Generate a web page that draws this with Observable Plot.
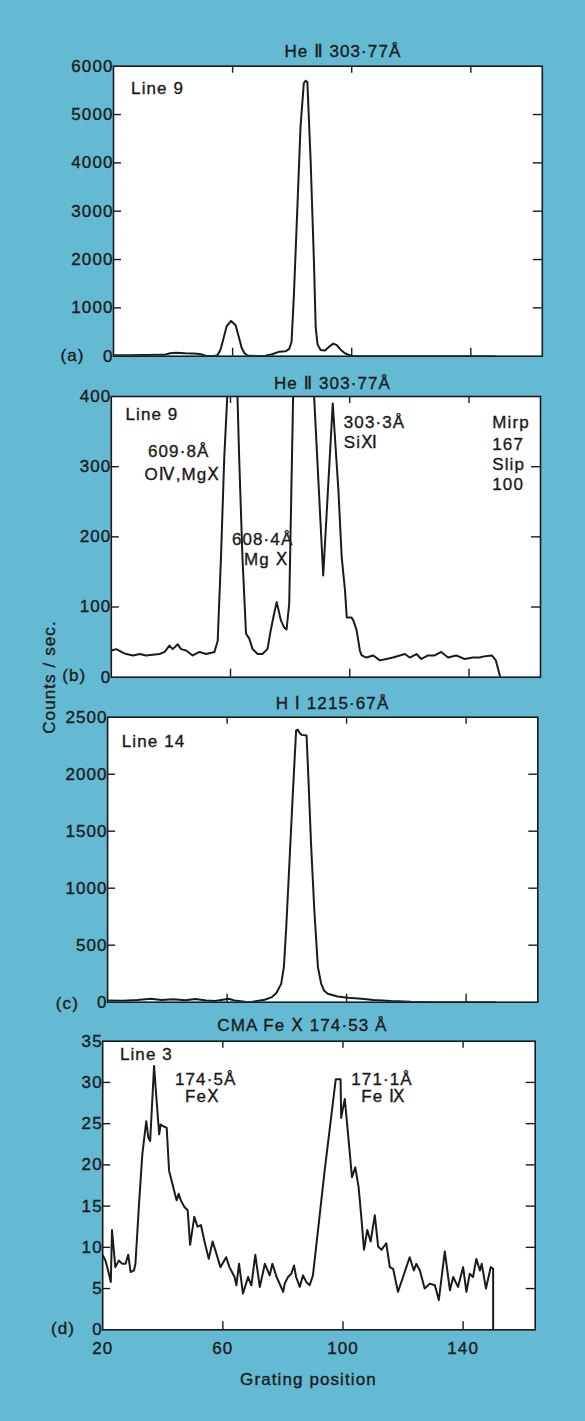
<!DOCTYPE html>
<html>
<head>
<meta charset="utf-8">
<script src="https://cdn.jsdelivr.net/npm/d3@7"></script>
<script src="https://cdn.jsdelivr.net/npm/@observablehq/plot@0.6"></script>
<style>
  html, body { margin: 0; padding: 0; background: #64b9d3; }
  #page { position: relative; width: 585px; height: 1421px; background: #64b9d3; overflow: hidden;
          font-family: "Liberation Sans", Arial, "DejaVu Sans", sans-serif; color: #1b1b1b; }
  #page svg { position: absolute; left: 0; }
  #page svg text { stroke: #1b1b1b; stroke-width: 0.35px; }
  #ylab { position: absolute; left: -50px; top: 667px; width: 200px; height: 20px; line-height: 20px;
          text-align: center; font-size: 17px; letter-spacing: 1.1px; transform: rotate(-90deg); transform-origin: 50% 50%;
          -webkit-text-stroke: 0.35px #1b1b1b; }
</style>
</head>
<body>
<div id="page"><div id="ylab">Counts / sec.</div></div>
<script>
// ---------- data (grating position, counts / sec.) ----------
const xTickValues = [20, 60, 100, 140];

// (a) He II 303.77 Å, Line 9
const positionA = [20, 25, 30, 37, 39, 41, 44, 47, 49, 51, 54, 55, 56, 57, 58, 59.5, 61, 62, 63, 64, 65, 68, 71, 73, 75.5, 77.8, 79, 79.8, 80.6, 81.7, 82.8, 83.9, 84.5, 85.1, 86.2, 87.3, 87.9, 88.5, 89.5, 91, 92.5, 93.8, 95, 96.2, 97.5, 98.5, 100, 102, 110, 120, 130, 140, 148];
const countsA   = [20, 22, 25, 28, 60, 70, 60, 55, 45, 8, 5, 25, 150, 380, 620, 730, 640, 420, 180, 60, 15, 5, 10, 35, 90, 100, 150, 300, 1290, 3000, 4740, 5640, 5700, 5670, 4050, 1980, 600, 250, 130, 120, 200, 260, 230, 140, 70, 40, 10, 2, 0, 0, 0, 0, 0];
const yTicksA   = [0, 1000, 2000, 3000, 4000, 5000, 6000];

// (b) He II 303.77 Å, Line 9 (expanded scale)
const positionB = [20, 21.7, 23.4, 25, 27.3, 29.5, 31.7, 33.9, 36.2, 37.9, 39.5, 40.6, 42.3, 43.4, 45.1, 47.3, 49.6, 51.8, 54.6, 55.7, 56.8, 57.9, 59, 60.5, 62.2, 62.9, 64, 65.2, 66.3, 67.4, 69.1, 70.7, 72.4, 73.5, 74.6, 75.5, 76.9, 78, 78.8, 79.7, 81, 82, 84.5, 87, 87.8, 91.1, 94.3, 96.2, 97.3, 98.4, 99, 100.6, 101.2, 102.3, 103.4, 104, 105.6, 107.9, 110.1, 112.3, 114.5, 116.8, 118.5, 120.1, 122.4, 124, 126.3, 128.5, 130.7, 133, 135.7, 138.5, 141.3, 143.5, 145.5, 147.7, 149, 150.5];
const countsB   = [38, 40, 36, 33, 31, 33, 31, 32, 33, 36, 45, 40, 47, 40, 38, 31, 36, 33, 36, 52, 171, 313, 408, 730, 420, 313, 171, 62, 55, 40, 33, 33, 40, 67, 90, 107, 81, 71, 68, 105, 400, 1500, 5700, 1500, 420, 145, 390, 266, 171, 124, 85, 85, 81, 67, 38, 31, 28, 31, 24, 26, 28, 31, 33, 28, 33, 26, 31, 31, 36, 28, 31, 26, 28, 28, 30, 31, 24, 0];
const yTicksB   = [0, 100, 200, 300, 400];

// (c) H I 1215.67 Å, Line 14
const positionC = [20, 25, 30, 34.5, 38, 42, 46, 49.4, 53, 56, 60.5, 62.5, 66, 68, 70, 72.6, 75, 76.5, 78.1, 79, 79.8, 80.9, 82, 83.1, 83.7, 84.3, 85, 86.6, 87.2, 88.1, 89.2, 90.4, 91.5, 92.5, 93.7, 97, 100.4, 105, 109, 115, 121.5, 130, 140, 149.6];
const countsC   = [15, 12, 20, 30, 20, 25, 18, 28, 15, 10, 30, 15, 5, 2, 10, 21, 45, 80, 161, 307, 658, 1243, 1828, 2383, 2390, 2360, 2345, 2340, 1974, 1389, 804, 307, 161, 100, 74, 50, 39, 30, 20, 10, 3, 0, 0, 0];
const yTicksC   = [0, 500, 1000, 1500, 2000, 2500];

// (d) CMA Fe X 174.53 Å, Line 3
const positionD = [20, 20.9, 21.8, 22.7, 23.1, 24.2, 25.4, 26.5, 27.6, 28.5, 29.3, 30.4, 30.9, 32.1, 33.2, 34.5, 35.2, 35.8, 37.1, 37.7, 38.8, 39.3, 40.1, 41.3, 42.1, 43.2, 44.6, 45.3, 46, 47.2, 48.3, 49.1, 50.5, 51.6, 52.7, 53.9, 55.3, 56.6, 57.8, 59.2, 61.1, 62.2, 63.9, 64.5, 65.4, 66.7, 68.4, 69.5, 70.8, 72.3, 74, 75.6, 76.5, 77.9, 80.1, 80.6, 81.7, 82.8, 83.7, 84.4, 85.6, 86.7, 87.8, 88.9, 90, 93.9, 97.6, 99.2, 99.4, 100.6, 101.7, 103, 104.1, 105.2, 106.1, 107, 108.1, 109.2, 110.6, 111.7, 112.8, 114.4, 115.6, 116.7, 118.3, 120, 122.2, 123.6, 124.4, 125.6, 127.2, 128.9, 130.6, 131.9, 133.9, 135.6, 136.7, 138.3, 140, 141.1, 142.2, 143.3, 144.4, 145.6, 146.2, 147.6, 149.2, 150, 150];
const countsD   = [9.05, 8.4, 7.2, 5.8, 12.1, 7.6, 8.4, 8, 8, 9.1, 7, 7.2, 8, 15.3, 21.3, 25.3, 23.3, 22.9, 32, 29, 23.7, 24.9, 24.7, 24.5, 19.3, 17.7, 15.7, 16.5, 15.7, 14.9, 14.5, 10.3, 13.7, 12.5, 12.7, 10.7, 8.6, 10.7, 9.3, 7.6, 8.8, 7.6, 6.4, 5.4, 8, 4.4, 6.4, 5.4, 9.1, 5.2, 8, 6.6, 8, 6.4, 4.6, 5.6, 6.4, 6.8, 7.8, 6.4, 5.2, 6.6, 5.8, 5.4, 6.6, 19.3, 30.4, 30.4, 25.7, 28, 23.7, 18.5, 19.7, 17.3, 13.7, 9.7, 12.1, 10.7, 13.9, 10.1, 9.7, 10.5, 7.6, 7.4, 4.6, 6.4, 8.8, 7.2, 8, 7.2, 5, 5.6, 5.4, 3.6, 9.5, 4.8, 6.4, 5.2, 7.6, 4.6, 6.8, 6.4, 8.6, 7.2, 8, 5, 7.6, 7.4, 0];
const yTicksD   = [0, 5, 10, 15, 20, 25, 30, 35];

const titles = ["He Ⅱ 303·77Å", "He Ⅱ 303·77Å", "H Ⅰ 1215·67Å", "CMA Fe Ⅹ 174·53 Å"];
const tags = ["(a)", "(b)", "(c)", "(d)"];
const xTitle = "Grating position";

// ---------- drawing ----------
const ink = "#1b1b1b";
const FS = 17;
const xDomain = [20, 164];
const page = document.getElementById("page");

function note(text, dx, dy, anchor = "start") {
  return Plot.text([text], {frameAnchor: "top-left", textAnchor: anchor, lineAnchor: "middle", dx, dy, fill: ink, fontSize: FS});
}

function makePanel(c) {
  const fw = 585 - c.mL - c.mR;
  const fh = c.height - c.mT - c.mB;
  const data = c.pos.map((x, i) => ({x, y: c.counts[i]}));
  const innerX = xTickValues.filter(v => v > xDomain[0]);
  const innerY = c.yTicks.slice(1, -1);
  const tickStyle = {stroke: ink, strokeWidth: 1.4};
  const marks = [
    Plot.frame({fill: "white", stroke: null}),
    Plot.tickY(innerY, {y: d => d, insetRight: fw - 8, ...tickStyle}),
    Plot.tickY(innerY, {y: d => d, insetLeft: fw - 9, ...tickStyle}),
    Plot.tickX(innerX, {x: d => d, insetTop: fh - 8, ...tickStyle}),
    Plot.tickX(innerX, {x: d => d, insetBottom: fh - 7, ...tickStyle}),
    Plot.line(data, {x: "x", y: "y", stroke: ink, strokeWidth: 2, clip: true}),
    Plot.frame({stroke: ink, strokeWidth: 1.6}),
    Plot.axisY({ticks: c.yTicks, tickSize: 0, tickPadding: 0, label: null, tickFormat: d => String(d), fontSize: FS}),
    Plot.text([c.title], {frameAnchor: "top", lineAnchor: "middle", dx: c.titleDx, dy: c.titleDy, fill: ink, fontSize: FS}),
    Plot.text([c.tag], {frameAnchor: "bottom-left", lineAnchor: "middle", textAnchor: "end", dx: c.tagDx, dy: c.tagDy, fill: ink, fontSize: FS}),
    ...c.notes
  ];
  if (c.xLabels) {
    marks.push(Plot.axisX({ticks: xTickValues, tickSize: 0, tickPadding: 12, label: null, tickFormat: d => String(d), fontSize: FS}));
    marks.push(Plot.text([xTitle], {frameAnchor: "bottom", lineAnchor: "middle", dx: -10.5, dy: 50, fill: ink, fontSize: FS}));
  }
  const svg = Plot.plot({
    width: 585, height: c.height,
    marginLeft: c.mL, marginRight: c.mR, marginTop: c.mT, marginBottom: c.mB,
    x: {domain: xDomain, axis: c.xLabels ? undefined : null},
    y: {domain: [c.yTicks[0], c.yTicks[c.yTicks.length - 1]]},
    style: {background: "transparent", color: ink, fontFamily: '"Liberation Sans", Arial, "DejaVu Sans", sans-serif', fontSize: FS + "px", letterSpacing: "1.1px", overflow: "visible"},
    marks
  });
  svg.style.top = c.top + "px";
  page.append(svg);
}

makePanel({top: 0, height: 370, mL: 113, mR: 43.2, mT: 65.7, mB: 14.3,
  pos: positionA, counts: countsA, yTicks: yTicksA, title: titles[0], titleDx: 15, titleDy: -14.7,
  tag: tags[0], tagDx: -29, tagDy: -0.7,
  notes: [note("Line 9", 17.6, 22)]});

makePanel({top: 360, height: 325, mL: 110.8, mR: 45, mT: 36, mB: 8.3,
  pos: positionB, counts: countsB, yTicks: yTicksB, title: titles[1], titleDx: 6.6, titleDy: -13,
  tag: tags[1], tagDx: -25, tagDy: -1.7,
  notes: [
    note("Line 9", 14.2, 18),
    note("609·8Å", 67.4, 55, "middle"),
    note("OⅣ,MgⅩ", 71, 78, "middle"),
    note("608·4Å", 151.3, 143, "middle"),
    note("Mg Ⅹ", 155, 163, "middle"),
    note("303·3Å", 232.5, 26),
    note("SiⅪ", 232.5, 46),
    note("Mirp", 381, 26),
    note("167", 381, 48),
    note("Slip", 381, 68),
    note("100", 381, 88)
  ]});

makePanel({top: 685, height: 325, mL: 107.1, mR: 47.7, mT: 31.7, mB: 8.3,
  pos: positionC, counts: countsC, yTicks: yTicksC, title: titles[2], titleDx: 9.8, titleDy: -13.7,
  tag: tags[2], tagDx: -28.7, tagDy: 1.6,
  notes: [note("Line 14", 14.2, 24)]});

makePanel({top: 1010, height: 411, mL: 102.2, mR: 50.3, mT: 30.7, mB: 91.7,
  pos: positionD, counts: countsD, yTicks: yTicksD, title: titles[3], titleDx: -16.5, titleDy: -15.7,
  tag: tags[3], tagDx: -27.6, tagDy: -1, xLabels: true,
  notes: [
    note("Line 3", 17.2, 13.3),
    note("174·5Å", 103, 38.3, "middle"),
    note("FeⅩ", 99.7, 55, "middle"),
    note("171·1Å", 279.3, 38.3, "middle"),
    note("Fe Ⅸ", 280.8, 55, "middle")
  ]});
</script>
</body>
</html>
